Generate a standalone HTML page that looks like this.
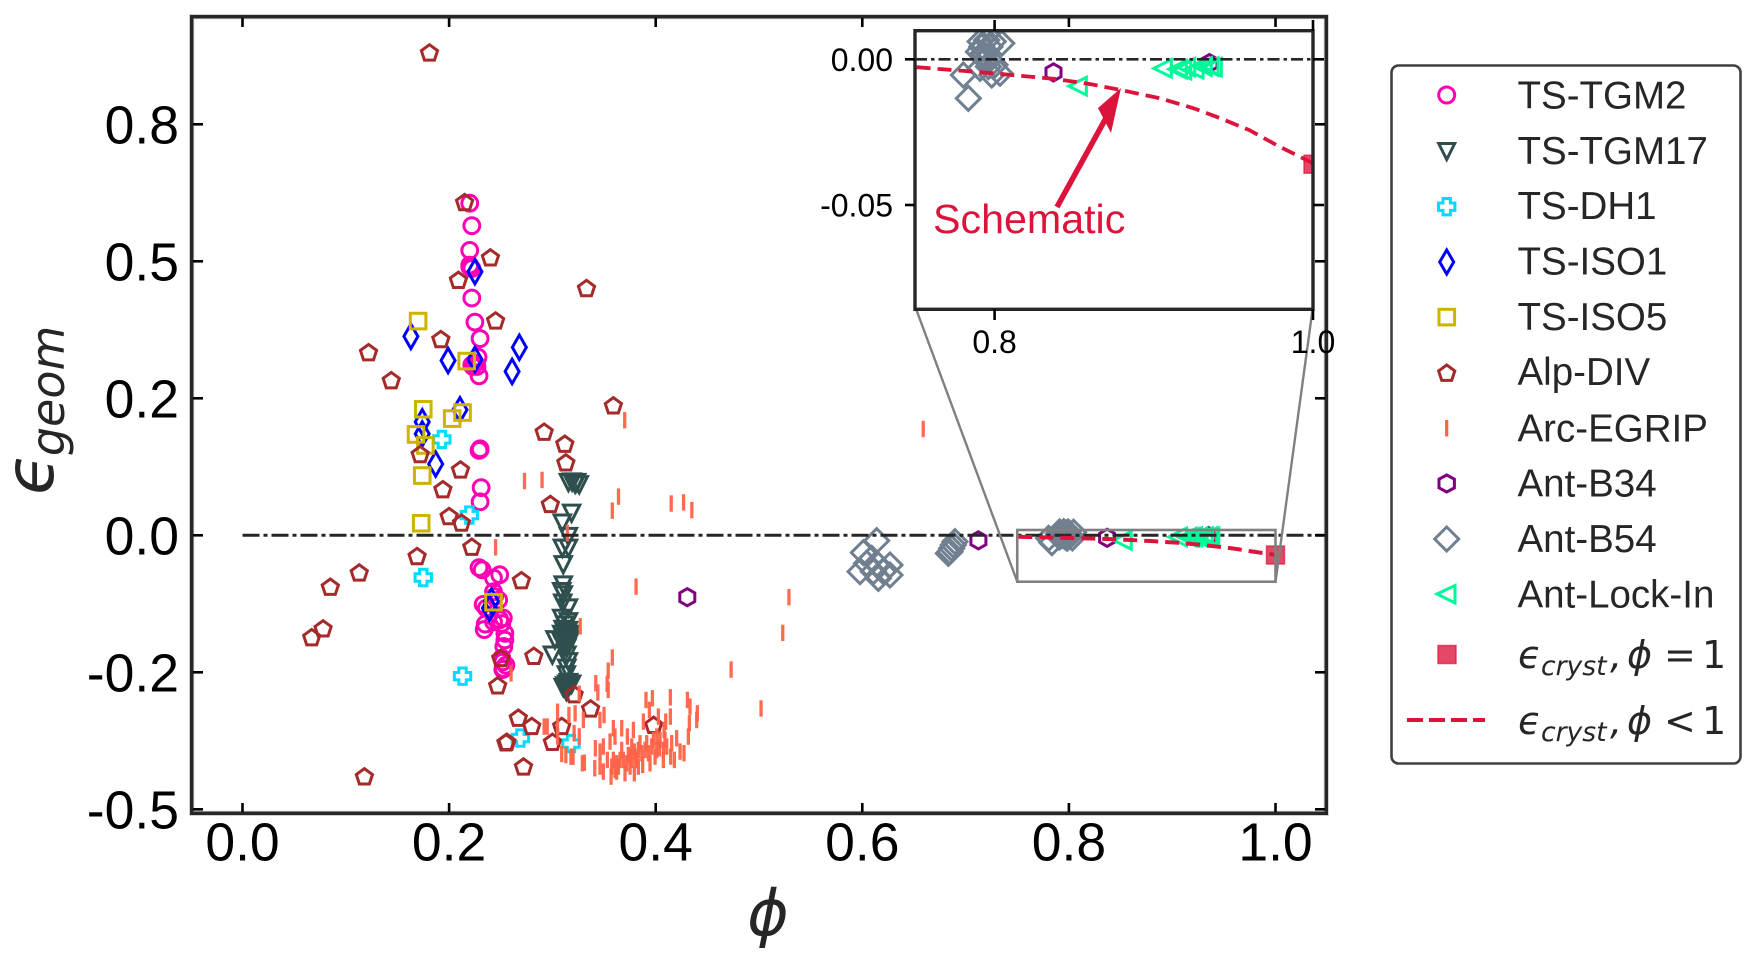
<!DOCTYPE html>
<html lang="en">
<head>
<meta charset="utf-8">
<title>Geometric strain versus phi</title>
<style>
html,body{margin:0;padding:0;background:#fff;width:1757px;height:964px;overflow:hidden;}
svg{display:block;overflow:hidden;}
text{font-family:"Liberation Sans",sans-serif;}
.math{font-family:"DejaVu Sans",sans-serif;font-style:italic;fill:#262626;}
.mathr{font-family:"DejaVu Sans",sans-serif;fill:#262626;}
.leg{font-size:38.5px;fill:#262626;}
</style>
</head>
<body>
<svg id="chart" xmlns="http://www.w3.org/2000/svg" width="1757" height="964" viewBox="0 0 1757 964">
  <defs>
    <clipPath id="mainClip"><rect x="191" y="16" width="1136" height="797"/></clipPath>
    <clipPath id="insetClip"><rect x="915" y="30.7" width="398" height="278.6"/></clipPath>
  </defs>
  <rect x="0" y="0" width="1757" height="964" fill="#fff"/>
  <g id="mainMarks" clip-path="url(#mainClip)"></g>
  <rect x="191.7" y="16.7" width="1134.6" height="796.6" fill="none" stroke="#c4c4c4" stroke-width="5"/>
  <rect x="191.7" y="16.7" width="1134.6" height="796.6" fill="none" stroke="#262626" stroke-width="3.4"/>
  <g id="mainAxes"></g>
  <g id="zoomIndicator"></g>
  <rect x="915" y="30.7" width="398" height="278.6" fill="#fff"/>
  <g id="insetMarks" clip-path="url(#insetClip)"></g>
  <rect x="915" y="30.7" width="398" height="278.6" fill="none" stroke="#262626" stroke-width="3.4"/>
  <g id="insetAxes"></g>

  <text x="933" y="233" font-size="41.2" fill="#dc143c">Schematic</text>
  <g>
    <line x1="1057" y1="207" x2="1106" y2="118" stroke="#dc143c" stroke-width="5.5"/>
    <polygon points="1121,88 1098,108 1111,133" fill="#dc143c"/>
  </g>

  <text transform="translate(53,495) rotate(-90)"><tspan class="math" font-size="68">&#x3F5;</tspan><tspan class="math" font-size="46" dx="-3" dy="11">geom</tspan></text>
  <text class="math" x="768" y="935" text-anchor="middle" font-size="63">&#x3D5;</text>

  <g>
    <rect x="1391.5" y="65.5" width="349" height="698" rx="7" ry="7" fill="#fff" stroke="#404040" stroke-width="2.6"/>
    <g>
      <circle cx="1446.7" cy="95" r="8" fill="none" stroke="#ff00b4" stroke-width="3"/>
      <text class="leg" x="1517.5" y="108.5">TS-TGM2</text>
    </g>
    <g>
      <polygon points="1438.7,143.5 1454.7,143.5 1446.7,159.5" fill="none" stroke="#2f4f4f" stroke-width="3"/>
      <text class="leg" x="1517.5" y="164">TS-TGM17</text>
    </g>
    <g>
      <polygon points="1443,198.5 1450.4,198.5 1450.4,203 1454.9,203 1454.9,210.4 1450.4,210.4 1450.4,214.9 1443,214.9 1443,210.4 1438.5,210.4 1438.5,203 1443,203" fill="none" stroke="#00dcff" stroke-width="3"/>
      <text class="leg" x="1517.5" y="219">TS-DH1</text>
    </g>
    <g>
      <polygon points="1446.7,250 1453.7,262 1446.7,274 1439.7,262" fill="none" stroke="#0000ff" stroke-width="3"/>
      <text class="leg" x="1517.5" y="274.5">TS-ISO1</text>
    </g>
    <g>
      <rect x="1439" y="309.3" width="15.6" height="15.6" fill="none" stroke="#ccb400" stroke-width="3"/>
      <text class="leg" x="1517.5" y="330">TS-ISO5</text>
    </g>
    <g>
      <polygon points="1446.7,365 1454.8,370.9 1451.7,380.4 1441.7,380.4 1438.6,370.9" fill="none" stroke="#a52a2a" stroke-width="3"/>
      <text class="leg" x="1517.5" y="385">Alp-DIV</text>
    </g>
    <g>
      <line x1="1446.7" y1="420" x2="1446.7" y2="436.5" stroke="#ff6347" stroke-width="3.2"/>
      <text class="leg" x="1517.5" y="441.5">Arc-EGRIP</text>
    </g>
    <g>
      <polygon points="1446.7,475 1454.4,479.2 1454.4,487.8 1446.7,492 1439,487.8 1439,479.2" fill="none" stroke="#800080" stroke-width="3"/>
      <text class="leg" x="1517.5" y="496.5">Ant-B34</text>
    </g>
    <g>
      <polygon points="1446.7,527 1458.7,539 1446.7,551 1434.7,539" fill="none" stroke="#708090" stroke-width="3"/>
      <text class="leg" x="1517.5" y="552">Ant-B54</text>
    </g>
    <g>
      <polygon points="1437,594 1455,585.5 1455,603" fill="none" stroke="#00fa9a" stroke-width="3"/>
      <text class="leg" x="1517.5" y="607.5">Ant-Lock-In</text>
    </g>
    <g>
      <rect x="1438" y="645.5" width="18" height="18" fill="#dc143c" fill-opacity="0.78" stroke="#dc143c" stroke-opacity="0.7" stroke-width="1.5"/>
      <text x="1518" y="668"><tspan class="math" font-size="38">&#x3F5;</tspan><tspan class="math" font-size="26.6" x="1541" y="675">cryst</tspan><tspan class="math" font-size="38" x="1610" y="668">,</tspan><tspan class="math" font-size="38" x="1627" y="668">&#x3D5;</tspan><tspan class="mathr" font-size="38" x="1664" y="668">=</tspan><tspan class="mathr" font-size="38" x="1702" y="668">1</tspan></text>
    </g>
    <g>
      <line x1="1407" y1="720" x2="1485" y2="720" stroke="#dc143c" stroke-width="4" stroke-dasharray="16 6"/>
      <text x="1518" y="734"><tspan class="math" font-size="38">&#x3F5;</tspan><tspan class="math" font-size="26.6" x="1541" y="741">cryst</tspan><tspan class="math" font-size="38" x="1610" y="734">,</tspan><tspan class="math" font-size="38" x="1627" y="734">&#x3D5;</tspan><tspan class="mathr" font-size="38" x="1664" y="734">&lt;</tspan><tspan class="mathr" font-size="38" x="1702" y="734">1</tspan></text>
    </g>
  </g>
</svg>

<script>
// Tick values and labels
const xTickValues = [0, 0.2, 0.4, 0.6, 0.8, 1.0];
const xTickLabels = ["0.0", "0.2", "0.4", "0.6", "0.8", "1.0"];
const yTickValues = [0.75, 0.5, 0.25, 0, -0.25, -0.5];
const yTickLabels = ["0.8", "0.5", "0.2", "0.0", "-0.2", "-0.5"];
const insetXTickValues = [0.8, 1.0];
const insetXTickLabels = ["0.8", "1.0"];
const insetYTickValues = [0, -0.05];
const insetYTickLabels = ["0.00", "-0.05"];

// Series values: [phi, epsilon_geom]
const tsTgm2 = [[.220,.606],[.222,.565],[.220,.520],[.220,.493],[.220,.490],[.222,.487],[.222,.433],[.225,.389],[.230,.359],[.228,.325],[.225,.314],[.222,.311],[.223,.308],[.227,.308],[.229,.291],[.230,.156],[.229,.155],[.230,.158],[.231,.087],[.230,.061],[.229,-.059],[.232,-.063],[.249,-.072],[.243,-.078],[.243,-.103],[.244,-.112],[.248,-.118],[.233,-.126],[.236,-.133],[.2525,-.151],[.251,-.161],[.235,-.162],[.234,-.172],[.243,-.158],[.249,-.154],[.254,-.179],[.254,-.191],[.253,-.203],[.251,-.224],[.252,-.231],[.255,-.237],[.2525,-.243],[.252,-.245]];
const tsTgm17 = [[.3155,.098],[.319,.099],[.3235,.098],[.322,.095],[.326,.094],[.3186,.042],[.3096,.024],[.3155,-.0006],[.3096,-.022],[.3155,-.022],[.3105,-.052],[.3105,-.089],[.309,-.101],[.3105,-.107],[.31,-.122],[.3155,-.131],[.309,-.15],[.3155,-.156],[.312,-.162],[.3105,-.17],[.3155,-.172],[.312,-.176],[.317,-.179],[.309,-.179],[.314,-.184],[.3105,-.185],[.317,-.188],[.312,-.191],[.309,-.194],[.3155,-.196],[.312,-.2],[.314,-.204],[.3025,-.189],[.3,-.217],[.314,-.217],[.3155,-.229],[.314,-.241],[.3135,-.253],[.3155,-.267],[.314,-.27],[.317,-.271],[.312,-.273],[.3155,-.276],[.314,-.279],[.3105,-.276],[.3135,-.283],[.3186,-.27]];
const tsDh1 = [[.193,.175],[.2196,.037],[.175,-.077],[.213,-.257],[.269,-.370],[.318,-.380]];
const tsIso1 = [[.225,.481],[.163,.363],[.199,.319],[.225,.321],[.268,.343],[.261,.299],[.2105,.229],[.174,.207],[.174,.185],[.187,.130],[.239,-.133],[.241,-.12]];
const tsIso5 = [[.170,.391],[.217,.318],[.175,.230],[.203,.213],[.213,.224],[.168,.184],[.177,.164],[.174,.109],[.173,.022],[.243,-.122]];
const alpDiv = [[.181,.881],[.215,.608],[.240,.507],[.209,.466],[.333,.451],[.245,.392],[.192,.358],[.122,.334],[.144,.283],[.359,.237],[.292,.189],[.312,.167],[.313,.133],[.172,.148],[.211,.120],[.194,.084],[.298,.057],[.200,.035],[.212,.023],[.222,-.021],[.169,-.038],[.270,-.082],[.113,-.068],[.085,-.094],[.078,-.170],[.067,-.186],[.282,-.220],[.250,-.224],[.247,-.274],[.321,-.290],[.337,-.316],[.267,-.333],[.280,-.348],[.309,-.348],[.300,-.377],[.256,-.377],[.255,-.378],[.272,-.422],[.118,-.440],[.398,-.346]];
const arcEgrip = [[.381,-.0937],[.529,-.113],[.523,-.178],[.473,-.245],[.502,-.316],[.327,-.166],[.260,-.252],[.358,-.223],[.354,-.247],[.342,-.270],[.353,-.271],[.354,-.282],[.344,-.287],[.326,-.289],[.305,-.322],[.316,-.328],[.322,-.325],[.350,-.328],[.346,-.337],[.330,-.337],[.292,-.349],[.295,-.349],[.305,-.349],[.321,-.361],[.326,-.367],[.305,-.367],[.309,-.399],[.313,-.401],[.318,-.404],[.320,-.404],[.329,-.416],[.331,-.415],
[.3416,-.3886],[.3410,-.4251],[.3461,-.3947],[.3461,-.4221],[.3493,-.3856],[.3493,-.4312],[.3532,-.4099],[.3558,-.3765],[.3568,-.4403],[.3590,-.3521],[.3606,-.4281],[.3606,-.3673],[.3590,-.4099],[.3639,-.4221],[.3671,-.3521],[.3671,-.3917],[.3703,-.4342],[.3719,-.4160],[.3726,-.3673],[.3752,-.4038],[.3768,-.3856],[.3784,-.3552],[.3793,-.4342],[.3793,-.3947],[.3816,-.4099],[.3832,-.4221],[.3848,-.3795],[.3874,-.4190],[.3881,-.3400],[.3906,-.3005],[.3929,-.3977],[.3945,-.4160],[.3939,-.3187],[.3968,-.2974],[.3977,-.3734],[.3994,-.4038],[.4010,-.3673],[.4026,-.3309],[.4036,-.3886],[.4074,-.4099],[.4081,-.3552],[.4097,-.3400],[.4142,-.2956],[.4142,-.3309],[.4107,-.3856],[.4145,-.4038],[.4155,-.3795],[.4181,-.4099],[.4203,-.3704],[.4236,-.3947],[.4274,-.3977],[.4307,-.3005],[.4316,-.3673],[.4332,-.3126],[.4326,-.3430],[.4397,-.3370],[.4403,-.3248],
[.3574,-.4221],[.3622,-.4160],[.3655,-.4099],[.3687,-.4099],[.3735,-.4008],[.3768,-.4099],[.3800,-.4038],[.3832,-.3917],[.3865,-.3977],[.3897,-.3917],[.3913,-.3795],[.3961,-.3856],[.4010,-.3917],[.4042,-.3734],[.4090,-.3734],[.4074,-.3917],[.3622,-.4312],[.3752,-.4221],
[.273,.099],[.290,.101],[.364,.0706],[.358,.045],[.415,.058],[.370,.21],[.245,-.022],[.3145,.004],[.659,.194],[.427,.06],[.435,.046]];
const antB34 = [[.4306,-.113],[.7124,-.0092],[.837,-.0045],[.935,-.0013]];
const antB54 = [[.7804,-.0054],[.7835,-.0134],[.8045,.0055],[.7909,.0061],[.7919,.0043],[.7950,.0066],[.7898,.0026],[.7929,.0021],[.7971,.0043],[.7992,.0061],[.7940,-.0002],[.7909,-.0031],[.7961,-.0025],[.7982,-.0054],[.8034,-.0048],[.8003,-.0019],[.7929,.0009],
[.6139,-.0098],[.6010,-.0317],[.5978,-.0663],[.6042,-.0511],[.6091,-.0420],[.6155,-.0542],[.6107,-.0663],[.6155,-.0785],[.6268,-.0542],[.6268,-.0725],[.6204,-.0663],
[.6897,-.0116],[.6881,-.0177],[.6865,-.0238],[.6849,-.0299],[.6833,-.0329]];
const antLockIn = [[.8526,-.0092],[.906,-.0031],[.9154,-.0034],[.9182,-.0037],[.9207,-.0027],[.9259,-.0034],[.9311,-.0025],[.9353,-.0025],[.9374,-.0027]];
const crystalPoint = [[1.0,-.036]];
const crystalCurve = [[.751,-.0027],[.7992,-.0048],[.837,-.0067],[.860,-.0085],[.879,-.0105],[.904,-.0134],[.925,-.0168],[.9416,-.0202],[.960,-.0243],[.977,-.0294],[1.0,-.0357]];
const zeroLine = [[0,0],[1.05,0]];
const insetXLimits = [0.75, 1.0];
const insetYLimits = [-0.0847, 0.0097];
const mainXLimits = [-0.05, 1.05];
const mainYLimits = [-0.51, 0.95];

// Axis functions
function mainX(v) { return 242.5 + 1033 * v; }
function mainY(v) { return 535.3 - 548 * v; }
function insetX(v) { return 915 + (v - 0.75) * 1592; }
function insetY(v) { return 59.3 - 2914 * v; }

const NS = 'http://www.w3.org/2000/svg';
function svgEl(tag, attrs) {
  const el = document.createElementNS(NS, tag);
  for (const k in attrs) el.setAttribute(k, attrs[k]);
  return el;
}
function polyAt(cx, cy, pts) {
  return pts.map(function (p) { return (cx + p[0]).toFixed(2) + ',' + (cy + p[1]).toFixed(2); }).join(' ');
}
const shapes = {
  down: [[-8.2,-7.2],[8.2,-7.2],[0,9]],
  left: [[-9.6,0],[8,-8.8],[8,8.8]],
  plus: [[-3.7,-8.2],[3.7,-8.2],[3.7,-3.7],[8.2,-3.7],[8.2,3.7],[3.7,3.7],[3.7,8.2],[-3.7,8.2],[-3.7,3.7],[-8.2,3.7],[-8.2,-3.7],[-3.7,-3.7]],
  thin: [[0,-12.2],[7,0],[0,12.2],[-7,0]],
  square: [[-7.8,-7.8],[7.8,-7.8],[7.8,7.8],[-7.8,7.8]],
  pent: [[0,-7.8],[8.1,-1.9],[5,7.6],[-5,7.6],[-8.1,-1.9]],
  hex: [[0,-8.6],[7.5,-4.3],[7.5,4.3],[0,8.6],[-7.5,4.3],[-7.5,-4.3]],
  wide: [[0,-12],[12,0],[0,12],[-12,0]]
};
function inRange(d, xLim, yLim) {
  return d[0] >= xLim[0] && d[0] <= xLim[1] && d[1] >= yLim[0] && d[1] <= yLim[1];
}
function drawSeries(parent, data, kind, color, fx, fy, xLim, yLim, seriesName) {
  const g = svgEl('g', {});
  
  
  data.filter(function (d) { return inRange(d, xLim, yLim); }).forEach(function (d) {
    const cx = fx(d[0]);
    const cy = fy(d[1]);
    let el;
    if (kind === 'circle') {
      el = svgEl('circle', { cx: cx, cy: cy, r: 7.9, fill: 'none', stroke: color, 'stroke-width': 3 });
    } else if (kind === 'tick') {
      el = svgEl('line', { x1: cx, x2: cx, y1: cy - 8.2, y2: cy + 8.2, stroke: color, 'stroke-width': 3.3, 'stroke-opacity': 0.95 });
    } else if (kind === 'filledSquare') {
      el = svgEl('rect', { x: cx - 9, y: cy - 9, width: 18, height: 18, fill: color, 'fill-opacity': 0.78, stroke: color, 'stroke-opacity': 0.7, 'stroke-width': 1.5 });
    } else {
      el = svgEl('polygon', { points: polyAt(cx, cy, shapes[kind]), fill: 'none', stroke: color, 'stroke-width': 3 });
    }
    
    
    g.appendChild(el);
  });
  parent.appendChild(g);
}
function drawLine(parent, data, fx, fy, xLim, attrs, lineName) {
  const el = svgEl('polyline', attrs);
  el.setAttribute('points', data.map(function (d) {
    const px = Math.min(xLim[1], Math.max(xLim[0], d[0]));
    return fx(px).toFixed(2) + ',' + fy(d[1]).toFixed(2);
  }).join(' '));
  el.setAttribute('fill', 'none');
  
  
  parent.appendChild(el);
}
function drawAll(parent, fx, fy, xLim, yLim, dash, dashW, curveW) {
  drawSeries(parent, tsTgm2, 'circle', '#ff00b4', fx, fy, xLim, yLim, 'ts-tgm2');
  drawSeries(parent, tsTgm17, 'down', '#2f4f4f', fx, fy, xLim, yLim, 'ts-tgm17');
  drawSeries(parent, tsDh1, 'plus', '#00dcff', fx, fy, xLim, yLim, 'ts-dh1');
  drawSeries(parent, tsIso1, 'thin', '#0000ff', fx, fy, xLim, yLim, 'ts-iso1');
  drawSeries(parent, tsIso5, 'square', '#ccb400', fx, fy, xLim, yLim, 'ts-iso5');
  drawSeries(parent, alpDiv, 'pent', '#a52a2a', fx, fy, xLim, yLim, 'alp-div');
  drawSeries(parent, arcEgrip, 'tick', '#ff6347', fx, fy, xLim, yLim, 'arc-egrip');
  drawSeries(parent, antB34, 'hex', '#800080', fx, fy, xLim, yLim, 'ant-b34');
  drawSeries(parent, antB54, 'wide', '#708090', fx, fy, xLim, yLim, 'ant-b54');
  drawSeries(parent, antLockIn, 'left', '#00fa9a', fx, fy, xLim, yLim, 'ant-lock-in');
  drawLine(parent, zeroLine, fx, fy, xLim, { stroke: '#262626', 'stroke-width': dashW, 'stroke-dasharray': dash }, 'zero-reference-line');
  drawSeries(parent, crystalPoint, 'filledSquare', '#dc143c', fx, fy, xLim, yLim, 'crystal-phi-equals-one');
  drawLine(parent, crystalCurve, fx, fy, xLim, { stroke: '#dc143c', 'stroke-width': curveW, 'stroke-dasharray': '14 7' }, 'crystal-phi-below-one-curve');
}

const mainMarks = document.getElementById('mainMarks');
const insetMarks = document.getElementById('insetMarks');
drawAll(mainMarks, mainX, mainY, mainXLimits, mainYLimits, '17 4 4 4', 3, 4);
drawAll(insetMarks, insetX, insetY, insetXLimits, insetYLimits, '12 4 3.5 4', 2.6, 3.8);

// Main axes ticks
const mainAxes = document.getElementById('mainAxes');
xTickValues.forEach(function (v, i) {
  const x = mainX(v);
  const t1 = svgEl('line', { x1: x, x2: x, y1: 803, y2: 812, stroke: '#000', 'stroke-width': 2.6 });
  
  
  mainAxes.appendChild(t1);
  const t2 = svgEl('line', { x1: x, x2: x, y1: 18, y2: 27, stroke: '#000', 'stroke-width': 2.6 });
  
  
  mainAxes.appendChild(t2);
  const lab = svgEl('text', { x: x, y: 860.5, 'text-anchor': 'middle', 'font-size': 53.5, fill: '#000' });
  lab.textContent = xTickLabels[i];
  
  
  mainAxes.appendChild(lab);
});
yTickValues.forEach(function (v, i) {
  const y = mainY(v);
  const t1 = svgEl('line', { x1: 193, x2: 203, y1: y, y2: y, stroke: '#000', 'stroke-width': 2.6 });
  
  
  mainAxes.appendChild(t1);
  const t2 = svgEl('line', { x1: 1315, x2: 1325, y1: y, y2: y, stroke: '#000', 'stroke-width': 2.6 });
  
  
  mainAxes.appendChild(t2);
  const lab = svgEl('text', { x: 179, y: y + 19, 'text-anchor': 'end', 'font-size': 53.5, fill: '#000' });
  lab.textContent = yTickLabels[i];
  
  
  mainAxes.appendChild(lab);
});

// Zoom indicator rectangle and connectors
const zoomIndicator = document.getElementById('zoomIndicator');
const rx0 = mainX(insetXLimits[0]);
const rx1 = mainX(insetXLimits[1]);
const ry0 = mainY(insetYLimits[1]);
const ry1 = mainY(insetYLimits[0]);
const zoomRect = svgEl('rect', { x: rx0, y: ry0, width: rx1 - rx0, height: ry1 - ry0, fill: 'none', stroke: '#808080', 'stroke-width': 2.6 });


zoomIndicator.appendChild(zoomRect);
const connLeft = svgEl('line', { x1: insetX(insetXLimits[0]), y1: insetY(insetYLimits[0]), x2: rx0, y2: ry1, stroke: '#808080', 'stroke-width': 2.4 });


zoomIndicator.appendChild(connLeft);
const connRight = svgEl('line', { x1: insetX(insetXLimits[1]), y1: insetY(insetYLimits[0]), x2: rx1, y2: ry1, stroke: '#808080', 'stroke-width': 2.4 });


zoomIndicator.appendChild(connRight);

// Inset axes ticks
const insetAxes = document.getElementById('insetAxes');
insetXTickValues.forEach(function (v, i) {
  const x = insetX(v);
  const t1 = svgEl('line', { x1: x, x2: x, y1: 309, y2: 320, stroke: '#000', 'stroke-width': 2.6 });
  
  
  insetAxes.appendChild(t1);
  const t2 = svgEl('line', { x1: x, x2: x, y1: 20, y2: 31, stroke: '#000', 'stroke-width': 2.6 });
  
  
  insetAxes.appendChild(t2);
  const lab = svgEl('text', { x: x, y: 353, 'text-anchor': 'middle', 'font-size': 32, fill: '#000' });
  lab.textContent = insetXTickLabels[i];
  
  
  insetAxes.appendChild(lab);
});
insetYTickValues.forEach(function (v, i) {
  const y = insetY(v);
  const t1 = svgEl('line', { x1: 905, x2: 915, y1: y, y2: y, stroke: '#000', 'stroke-width': 2.6 });
  
  
  insetAxes.appendChild(t1);
  const t2 = svgEl('line', { x1: 1313, x2: 1324, y1: y, y2: y, stroke: '#000', 'stroke-width': 2.6 });
  
  
  insetAxes.appendChild(t2);
  const lab = svgEl('text', { x: 893, y: y + 11.5, 'text-anchor': 'end', 'font-size': 32, fill: '#000' });
  lab.textContent = insetYTickLabels[i];
  
  
  insetAxes.appendChild(lab);
});
</script>
</body>
</html>
